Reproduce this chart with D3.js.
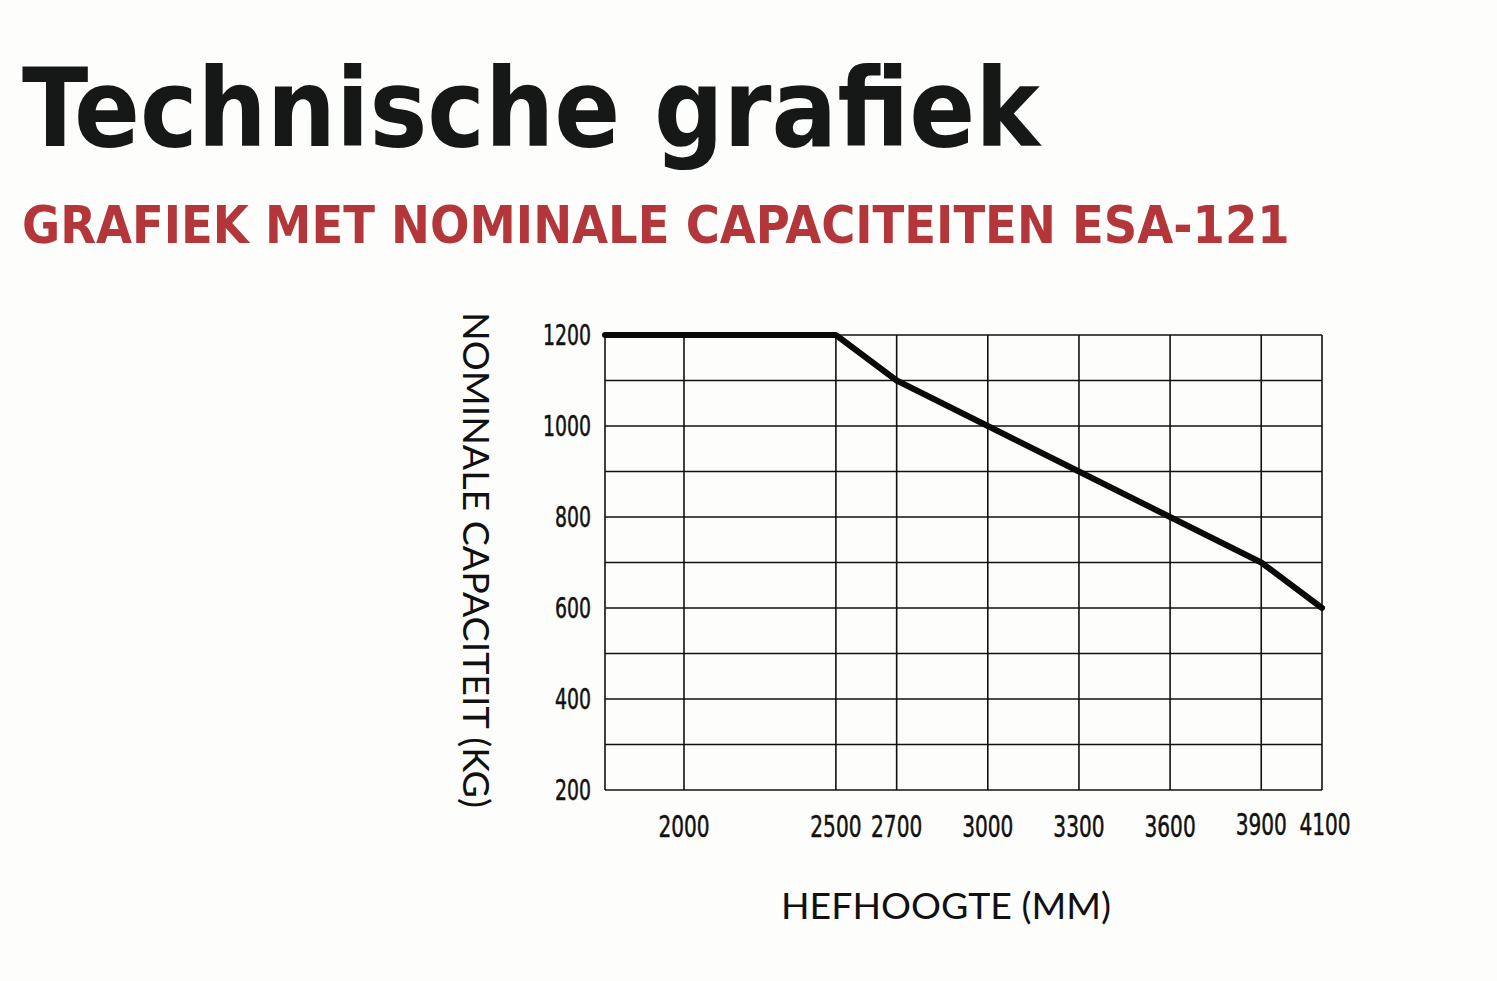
<!DOCTYPE html>
<html><head><meta charset="utf-8">
<script src="https://cdn.jsdelivr.net/npm/d3@7"></script>
<style>
html,body{margin:0;padding:0;background:#fdfdfb;}
svg{display:block;}
</style></head>
<body>
<svg id="chart" width="1497" height="981"></svg>
<script>
const titleText = "Technische grafiek";
const subtitleText = "GRAFIEK MET NOMINALE CAPACITEITEN ESA-121";
const yTitle = "NOMINALE CAPACITEIT (KG)";
const xTitle = "HEFHOOGTE (MM)";
const liftHeights = [1740, 2500, 2700, 3000, 3300, 3600, 3900, 4100];
const capacities  = [1200, 1200, 1100, 1000, 900, 800, 700, 600];
const xTicks = [2000, 2500, 2700, 3000, 3300, 3600, 3900, 4100];
const yGrid = [200, 300, 400, 500, 600, 700, 800, 900, 1000, 1100, 1200];
const yTicks = [200, 400, 600, 800, 1000, 1200];

const svg = d3.select("#chart");
svg.append("rect").attr("width",1497).attr("height",981).attr("fill","#fdfdfb");

function fit(sel, target){
  const w = sel.node().getComputedTextLength();
  const fs = parseFloat(sel.attr("font-size"));
  sel.attr("font-size", fs*target/w);
}

const t = svg.append("text").attr("x",22).attr("y",146)
  .attr("font-family","'DejaVu Sans Condensed','DejaVu Sans',sans-serif")
  .attr("font-weight","bold").attr("font-size",120).attr("fill","#161817")
  .text(titleText);
fit(t, 1018);

const st = svg.append("text").attr("x",22).attr("y",243)
  .attr("font-family","'DejaVu Sans Condensed','DejaVu Sans',sans-serif")
  .attr("font-weight","bold").attr("font-size",58).attr("fill","#b3373a")
  .text(subtitleText);
fit(st, 1268);

const x = d3.scaleLinear().domain([1740, 4100]).range([605, 1322]);
const y = d3.scaleLinear().domain([200, 1200]).range([790, 335]);

const g = svg.append("g");
g.selectAll("line.h").data(yGrid).join("line")
  .attr("x1", x(1740)).attr("x2", x(4100))
  .attr("y1", d=>y(d)).attr("y2", d=>y(d))
  .attr("stroke","#111").attr("stroke-width",1.6);
g.selectAll("line.v").data([1740].concat(xTicks)).join("line")
  .attr("x1", d=>x(d)).attr("x2", d=>x(d))
  .attr("y1", y(200)).attr("y2", y(1200))
  .attr("stroke","#111").attr("stroke-width",1.6);

const tickFont = "'DejaVu Sans Condensed','DejaVu Sans',sans-serif";
function squeeze(sel, perChar){
  sel.each(function(){
    const el = d3.select(this);
    const w = this.getComputedTextLength();
    const sx = perChar*this.textContent.length / w;
    const px = +el.attr("data-x"), py = +el.attr("data-y");
    el.attr("transform", `translate(${px},${py}) scale(${sx},1)`);
  });
}
const ytl = g.selectAll("text.yt").data(yTicks).join("text")
  .attr("data-x", 591).attr("data-y", d=>y(d)+10)
  .attr("text-anchor","end").attr("font-family",tickFont)
  .attr("font-size",27.5).attr("fill","#111")
  .attr("stroke","#111").attr("stroke-width",0.5)
  .text(d=>d);
squeeze(ytl, 12);
const xtl = g.selectAll("text.xt").data(xTicks).join("text")
  .attr("data-x", d=> d===4100 ? x(d)+3 : x(d)).attr("data-y", d=> d>=3900 ? 835 : 837)
  .attr("text-anchor","middle").attr("font-family",tickFont)
  .attr("font-size",29.5).attr("fill","#111")
  .attr("stroke","#111").attr("stroke-width",0.5)
  .text(d=>d);
squeeze(xtl, 12.8);

const pts = liftHeights.map((h,i)=>[h, capacities[i]]);
g.append("path").datum(pts)
  .attr("d", d3.line().x(d=>x(d[0])).y(d=>y(d[1])))
  .attr("fill","none").attr("stroke","#0a0a0a").attr("stroke-width",6)
  .attr("stroke-linecap","round").attr("stroke-linejoin","round");

const titleFont = "Lato,'Open Sans',sans-serif";
const xt = svg.append("text").attr("x",946).attr("y",919)
  .attr("text-anchor","middle").attr("font-family",titleFont)
  .attr("font-size",38).attr("fill","#111").text(xTitle);
fit(xt, 330);

const yt = svg.append("text").attr("transform","translate(463,560) rotate(90)")
  .attr("text-anchor","middle").attr("font-family",titleFont)
  .attr("font-size",38).attr("fill","#111").text(yTitle);
fit(yt, 496);
</script>
</body></html>
